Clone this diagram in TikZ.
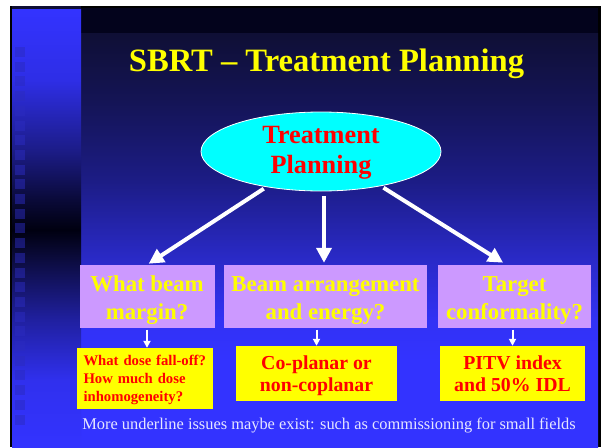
\documentclass[tikz,border=0pt]{standalone}
\usepackage{fontspec}
\setmainfont{Liberation Serif}
\usetikzlibrary{arrows.meta,shapes.geometric,calc}

% slide palette
\definecolor{slideblue}{HTML}{3333FF}
\definecolor{headband}{HTML}{03031C}
\definecolor{mfA}{HTML}{0F0F35}
\definecolor{mfB}{HTML}{141455}
\definecolor{mfC}{HTML}{1C1C85}
\definecolor{mfD}{HTML}{2A2AC8}
\definecolor{mfE}{HTML}{3232F5}
\definecolor{ssA}{HTML}{2E2EE6}
\definecolor{ssB}{HTML}{1C1C88}
\definecolor{ssC}{HTML}{0A0A38}
\definecolor{ssD}{HTML}{000010}
\definecolor{ssE}{HTML}{0C0C40}
\definecolor{ssF}{HTML}{2020A0}
\definecolor{ssG}{HTML}{3030EE}
\definecolor{tickblue}{HTML}{2B2BC0}
\definecolor{lavender}{HTML}{CC99FF}
\definecolor{hiyellow}{HTML}{FFFF00}
\definecolor{hired}{HTML}{FF0000}
\definecolor{hicyan}{HTML}{00FFFF}
\definecolor{notegrey}{HTML}{E6E6FF}

% main field: dark at the top, bright blue towards the bottom
\pgfdeclareverticalshading{mainfield}{100bp}{color(0bp)=(slideblue); color(25bp)=(slideblue);
  color(35.5bp)=(slideblue); color(40.3bp)=(mfE); color(47.6bp)=(mfD); color(57.2bp)=(mfC);
  color(66.9bp)=(mfB); color(75bp)=(mfA); color(100bp)=(mfA)}
% side strip: blue, black band in the middle, blue again
\pgfdeclareverticalshading{sidestrip}{100bp}{color(0bp)=(slideblue); color(25bp)=(slideblue);
  color(32.6bp)=(ssG); color(39.5bp)=(ssF); color(46.3bp)=(ssE); color(49.8bp)=(ssD);
  color(53.2bp)=(ssC); color(58.9bp)=(ssB); color(66.9bp)=(ssA); color(75bp)=(slideblue);
  color(100bp)=(slideblue)}

\begin{document}
\begin{tikzpicture}[x=1pt,y=-1pt,
  planbox/.style={ellipse, fill=hicyan, draw=white, line width=0.8pt,
    minimum width=240pt, minimum height=79pt, inner sep=0pt,
    text=hired, align=center, font=\bfseries\fontsize{26.3}{30}\selectfont,
    text height=45pt, text depth=2pt},
  askbox/.style={rectangle, fill=lavender, minimum height=63pt, inner sep=0pt,
    text=hiyellow, align=center, font=\bfseries\fontsize{22.8}{28}\selectfont,
    text height=47pt, text depth=2pt},
  answerbox/.style={rectangle, fill=hiyellow, minimum height=55pt, inner sep=0pt,
    text=hired, align=center, font=\bfseries\fontsize{19.8}{22}\selectfont,
    text height=40pt, text depth=5pt},
  smallanswer/.style={rectangle, fill=hiyellow, minimum height=61pt, minimum width=136pt,
    inner xsep=6.5pt, inner ysep=0pt, text width=123pt,
    text=hired, align=left, font=\bfseries\fontsize{14.7}{18}\selectfont,
    text height=10pt, text depth=37pt},
  bigarrow/.style={draw=white, line width=4pt, -{Triangle[length=15pt,width=15pt]}},
  smallarrow/.style={draw=white, line width=2pt, -{Triangle[length=7pt,width=7pt]}},
  sidetick/.style={fill=tickblue, opacity=0.5}]

\useasboundingbox (0,0) rectangle (602,447);
% page and slide frame
\fill[white] (0,0) rectangle (602,447);
\fill[black] (10,6) rectangle (601,447);
\fill[mfA] (12,6) rectangle (81,9);
% backgrounds
\shade[shading=mainfield] (81,33) rectangle (598,447);
\fill[headband] (81,8) rectangle (598,33);
\shade[shading=sidestrip] (12,9) rectangle (81,447);
\foreach \k in {-10,...,15}
  \fill[sidetick] (15,{194+14.7*\k}) rectangle +(10,10);

% title
\node[anchor=base, text=hiyellow, font=\bfseries\fontsize{32.6}{38}\selectfont]
  (title) at (326.5,71.7) {SBRT – Treatment Planning};

% central topic
\node[planbox] (tp) at (321,151.5) {Treatment\\Planning};

% questions
\node[askbox, minimum width=135pt] (q1) at (147,296.5) {What beam\\margin?};
\node[askbox, minimum width=203pt] (q2) at (325.5,296.5) {Beam arrangement\\and energy?};
\node[askbox, minimum width=153pt] (q3) at (514.5,296.5) {Target\\conformality?};

% answers
\node[smallanswer] (a1) at (145,378.5) {What dose fall-off?\\How much dose\\inhomogeneity?};
\node[answerbox, minimum width=161pt] (a2) at (316.5,373.5) {Co-planar or\\non-coplanar};
\node[answerbox, minimum width=145pt] (a3) at (512.5,373.5) {PITV index\\and 50\% IDL};

% footnote
\node[anchor=base, text=notegrey, font=\fontsize{16.4}{19}\selectfont]
  (note) at (329,429) {More underline issues maybe exist: such as commissioning for small fields};

% connectors from the topic to the questions
\coordinate (midtop) at ([xshift=3pt]tp.south);
\draw[bigarrow, shorten <=3pt, shorten >=2pt] (tp.213) -- (q1.north);
\draw[bigarrow, shorten <=5pt, shorten >=2pt] (midtop) -- (midtop |- q2.north);
\draw[bigarrow, shorten <=3pt, shorten >=4pt] (tp.330) -- ([xshift=-8pt]q3.north);

% connectors from the questions to the answers
\draw[smallarrow, shorten <=1.5pt] (q1.south) -- (q1.south |- a1.north);
\draw[smallarrow, shorten <=1.5pt] (a2.north |- q2.south) -- (a2.north);
\draw[smallarrow, shorten <=1.5pt] (a3.north |- q3.south) -- (a3.north);
\end{tikzpicture}
\end{document}
